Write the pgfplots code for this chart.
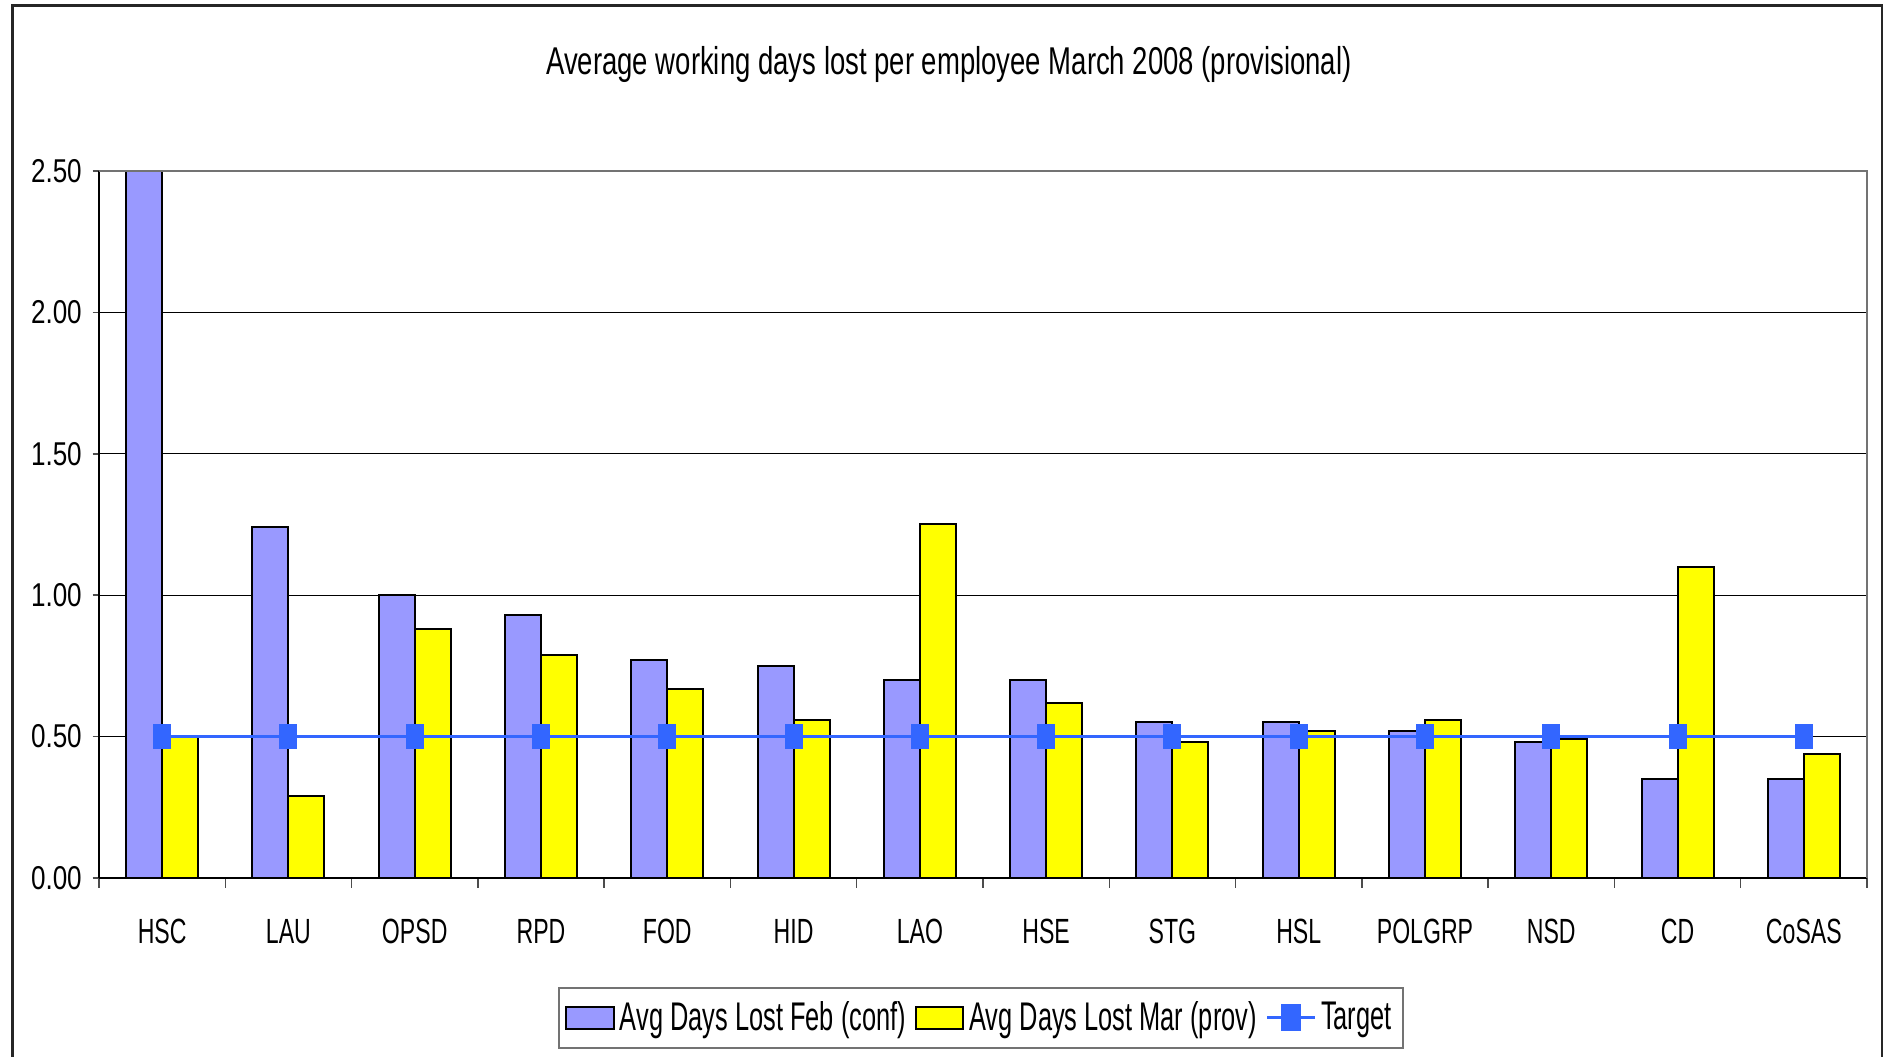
\documentclass[border=0pt]{standalone}
\usepackage{fontspec}
\setmainfont{Liberation Sans}
\newfontfamily\fTitle{Liberation Sans}[FakeStretch=0.71]
\newfontfamily\fTick{Liberation Sans}[FakeStretch=0.79]
\newfontfamily\fCat{Liberation Sans}[FakeStretch=0.66]
\newfontfamily\fLeg{Liberation Sans}[FakeStretch=0.635]
\usepackage{pgfplots}
\pgfplotsset{compat=1.18}
\definecolor{feb}{RGB}{153,153,255}
\definecolor{mar}{RGB}{255,255,0}
\definecolor{tgt}{RGB}{51,102,255}
\begin{document}
\begin{tikzpicture}
\path[use as bounding box] (0,0) rectangle (753.2pt,422.8pt);
\begin{axis}[
  at={(39.6pt,71.6pt)}, anchor=south west,
  scale only axis, width=707.2pt, height=282.8pt,
  xmin=-0.5, xmax=13.5, ymin=0, ymax=2.5,
  axis x line*=bottom, axis y line*=left,
  axis line style={black, line width=0.7pt},
  tick align=outside,
  xtick={0,...,13},
  xticklabels={HSC,LAU,OPSD,RPD,FOD,HID,LAO,HSE,STG,HSL,POLGRP,NSD,CD,CoSAS},
  major x tick style={draw=none},
  minor xtick={-0.5,0.5,...,13.5},
  minor x tick style={black!70, line width=0.6pt},
  minor tick length=4pt,
  major tick length=2.6pt,
  xticklabel style={font=\fCat\fontsize{14}{16}\selectfont, anchor=base, yshift=-23.6pt},
  ytick={0,0.5,...,2.5},
  major y tick style={black!70, line width=0.6pt},
  yticklabel style={font=\fTick\fontsize{13.2}{16}\selectfont, anchor=east, inner sep=0pt, xshift=-4.1pt,
     /pgf/number format/.cd, fixed, fixed zerofill, precision=2, assume math mode=true},
  ymajorgrids, major grid style={black, line width=0.5pt},
  legend columns=3,
  legend style={at={(0.4989,-0.198)}, anchor=center, draw=black!55, line width=0.8pt,
     font=\fLeg\fontsize{16}{19}\selectfont, inner xsep=2.5pt, inner ysep=3.5pt,
     /tikz/every even column/.append style={column sep=1.5pt}},
]
\addplot[ybar, bar width=0.285, bar shift=-0.1425, fill=feb, draw=black, line width=0.8pt,
  legend image code/.code={\draw[fill=feb, draw=black, line width=0.8pt] (0pt,-4.3pt) rectangle (19pt,4.3pt);}]
  coordinates {(0,2.50) (1,1.24) (2,1.00) (3,0.93) (4,0.77) (5,0.75) (6,0.70) (7,0.70) (8,0.55) (9,0.55) (10,0.52) (11,0.48) (12,0.35) (13,0.35)};
\addlegendentry{Avg Days Lost Feb (conf)}
\addplot[ybar, bar width=0.285, bar shift=0.1425, fill=mar, draw=black, line width=0.8pt,
  legend image code/.code={\draw[fill=mar, draw=black, line width=0.8pt] (0pt,-4.3pt) rectangle (19pt,4.3pt);}]
  coordinates {(0,0.50) (1,0.29) (2,0.88) (3,0.79) (4,0.67) (5,0.56) (6,1.25) (7,0.62) (8,0.48) (9,0.52) (10,0.56) (11,0.49) (12,1.10) (13,0.44)};
\addlegendentry{Avg Days Lost Mar (prov)}
\addplot[tgt, line width=1.2pt, mark=square*, mark size=4.8pt,
  mark options={xscale=0.708, draw=tgt, fill=tgt, line width=0pt},
  legend image code/.code={\draw[tgt, line width=1.2pt] (0pt,0pt) -- (19pt,0pt);
     \fill[tgt] (6.1pt,-4.8pt) rectangle (12.9pt,4.8pt);}]
  coordinates {(0,0.5) (1,0.5) (2,0.5) (3,0.5) (4,0.5) (5,0.5) (6,0.5) (7,0.5) (8,0.5) (9,0.5) (10,0.5) (11,0.5) (12,0.5) (13,0.5)};
\addlegendentry{Target}
\end{axis}
\draw[black!55, line width=0.8pt] (39.6pt,354.4pt) -- (746.8pt,354.4pt) -- (746.8pt,71.6pt);
\node[font=\fTitle\fontsize{15.5}{18}\selectfont, anchor=base, inner sep=0pt] at (379.6pt,393.1pt) {Average working days lost per employee March 2008 (provisional)};
\draw[black!85, line width=1.2pt] (4.8pt,-5pt) -- (4.8pt,420.4pt) -- (752.8pt,420.4pt) -- (752.8pt,-5pt);
\end{tikzpicture}
\end{document}
